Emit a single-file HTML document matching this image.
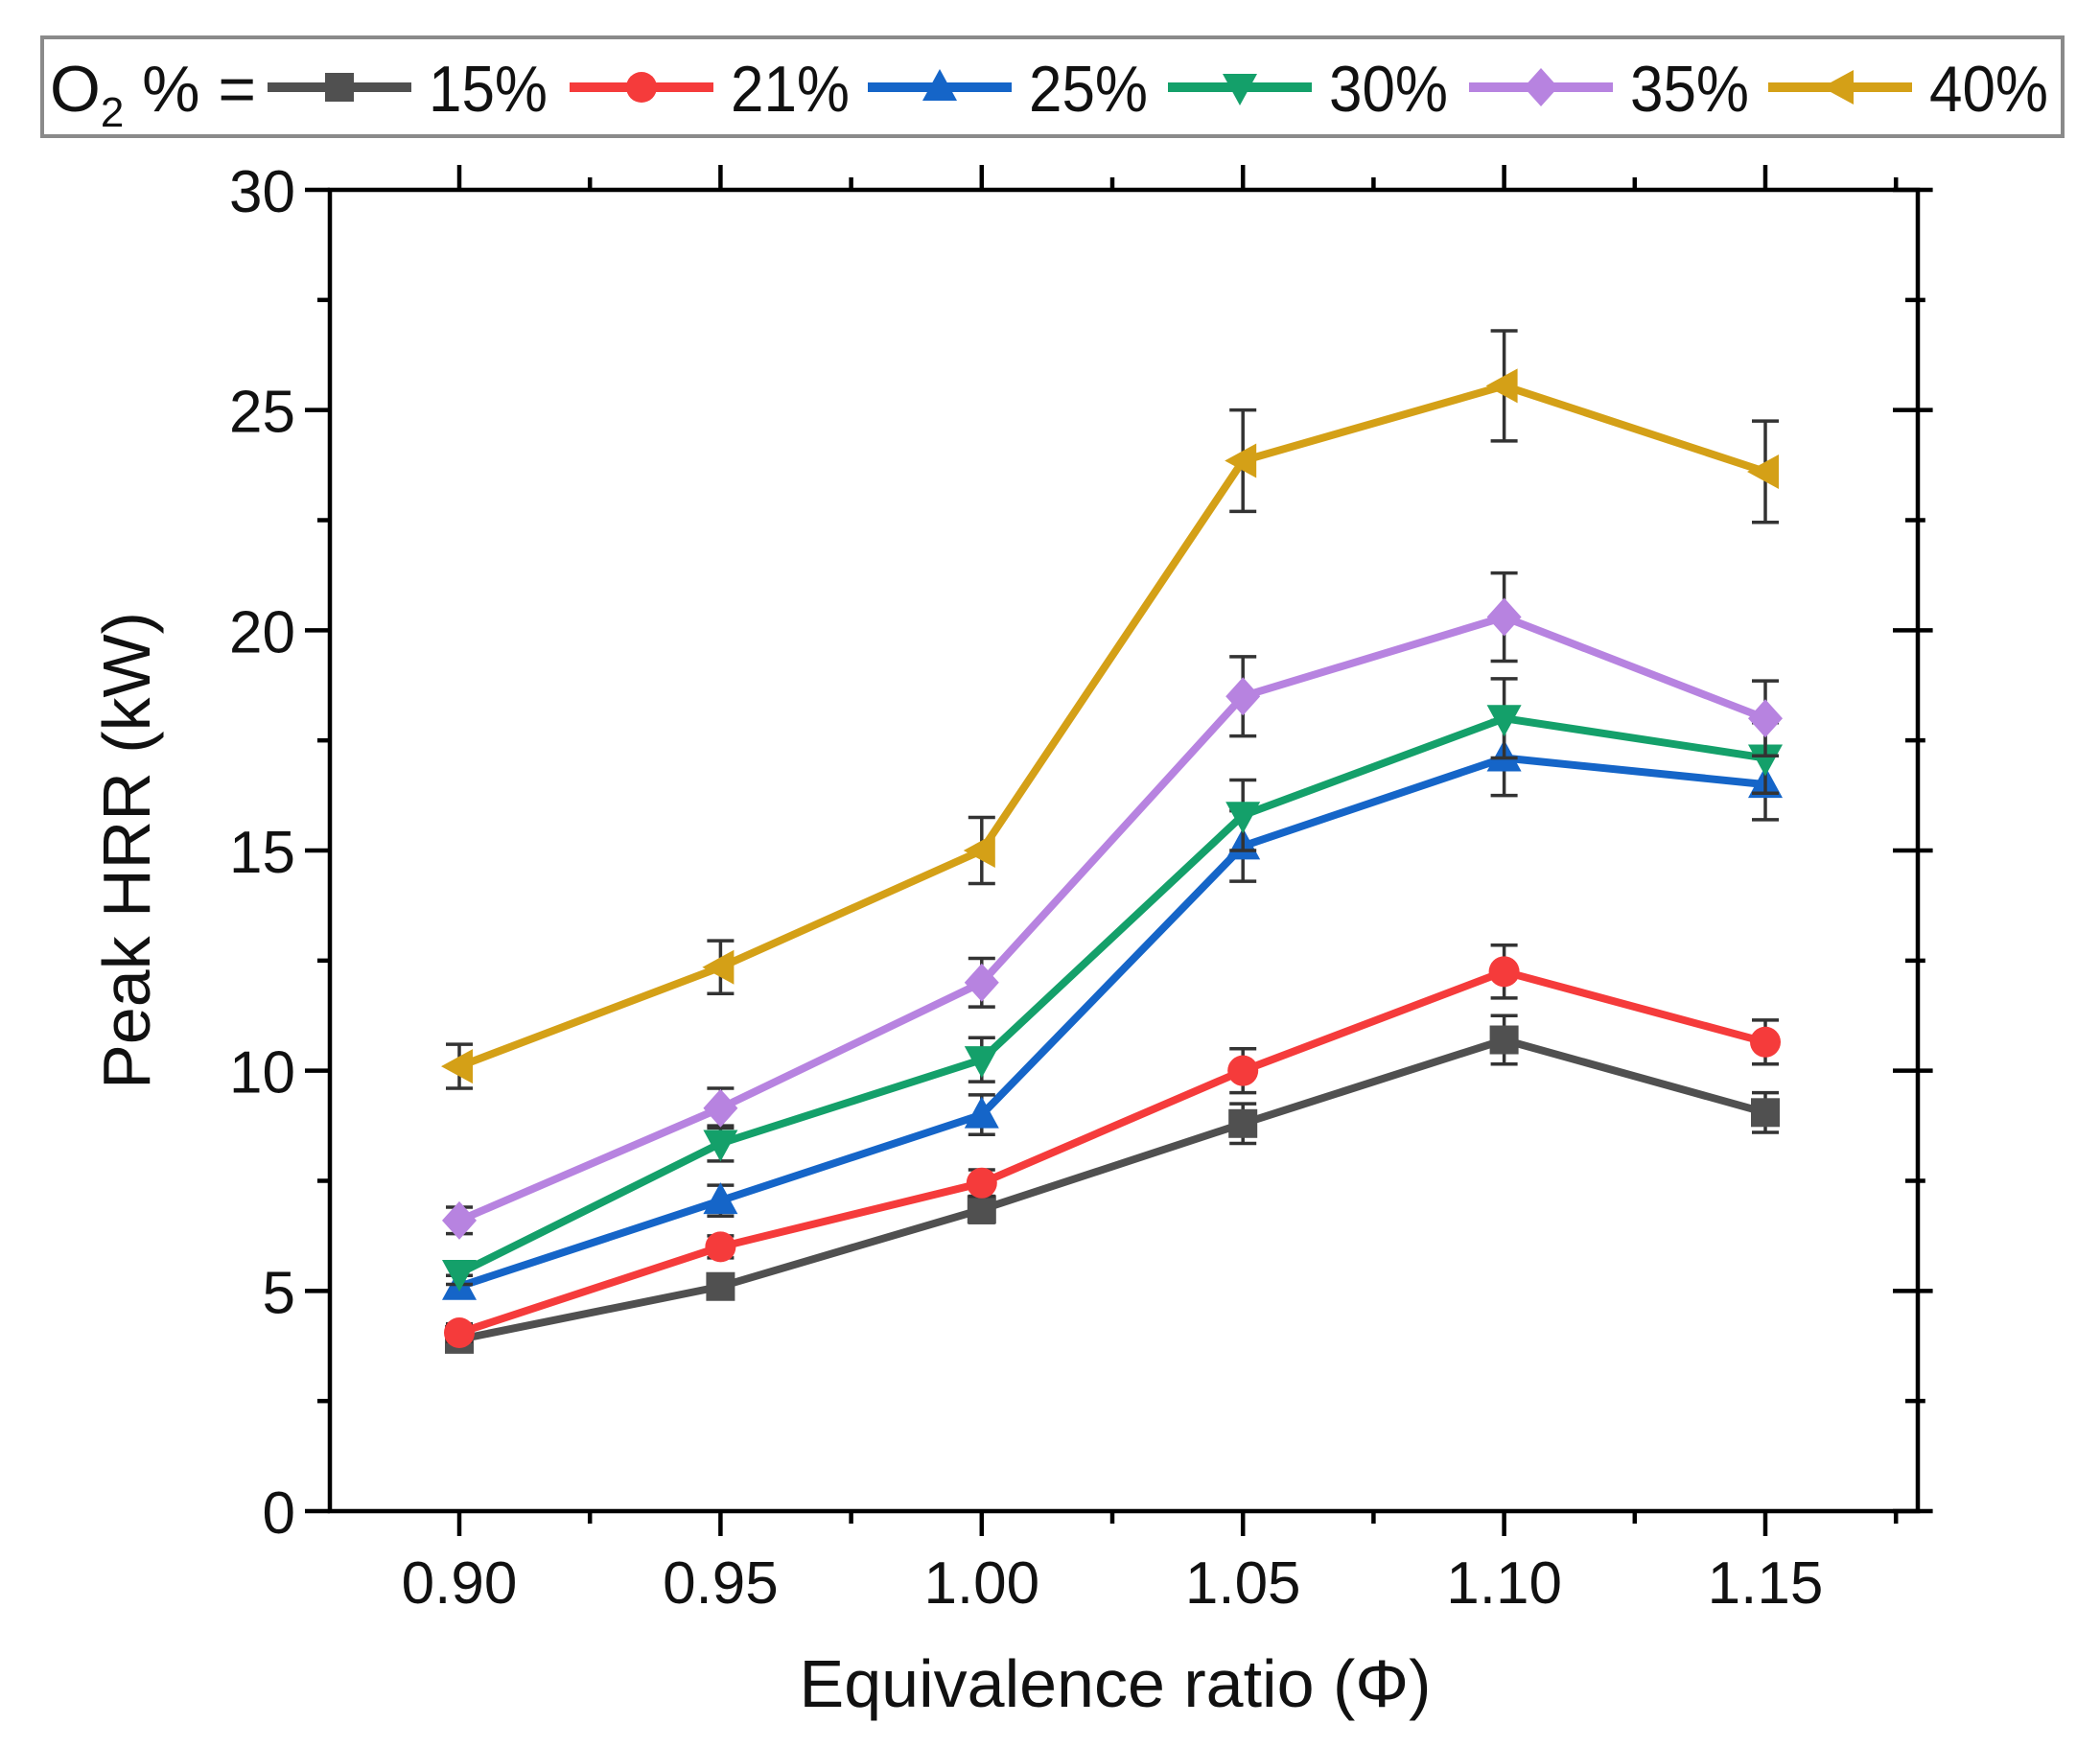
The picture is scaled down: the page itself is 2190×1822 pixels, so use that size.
<!DOCTYPE html>
<html><head><meta charset="utf-8"><style>
html,body{margin:0;padding:0;background:#fff}
svg{display:block}
text{font-family:"Liberation Sans",Arial,sans-serif;fill:#111}
</style></head><body>
<svg id="chart" width="2190" height="1822" viewBox="0 0 2190 1822" xmlns="http://www.w3.org/2000/svg">
<g id="legend">
<rect x="44" y="39" width="2107" height="103" fill="#fff" stroke="#8a8a8a" stroke-width="4"/>
<text x="52" y="116" font-size="68" textLength="215" lengthAdjust="spacingAndGlyphs">O<tspan font-size="44" dy="16">2</tspan><tspan dy="-16"> % =</tspan></text>
</g>
<g id="axes"></g>
<g id="series"></g>
</svg>
<script>
const categories = [0.90, 0.95, 1.00, 1.05, 1.10, 1.15];
const xTickLabels = ["0.90","0.95","1.00","1.05","1.10","1.15"];
const yTicks = [0,5,10,15,20,25,30];
const seriesNames = ["15%","21%","25%","30%","35%","40%"];
const seriesColors = ["#505050","#f53b3b","#1565c8","#14a06a","#b783e0","#d4a017"];
const seriesMarkers = ["square","circle","triangle-up","triangle-down","diamond","triangle-left"];
const o2_15 = [3.9, 5.1, 6.85, 8.8, 10.7, 9.05];
const o2_21 = [4.05, 6.0, 7.45, 10.0, 12.25, 10.65];
const o2_25 = [5.1, 7.05, 9.0, 15.1, 17.1, 16.5];
const o2_30 = [5.4, 8.35, 10.25, 15.8, 18.0, 17.1];
const o2_35 = [6.6, 9.15, 12.0, 18.5, 20.3, 18.0];
const o2_40 = [10.1, 12.35, 15.0, 23.85, 25.55, 23.6];
const err_15 = [0.2, 0.25, 0.3, 0.45, 0.55, 0.45];
const err_21 = [0.2, 0.25, 0.3, 0.5, 0.6, 0.5];
const err_25 = [0.25, 0.35, 0.45, 0.8, 0.85, 0.8];
const err_30 = [0.25, 0.4, 0.5, 0.8, 0.9, 0.8];
const err_35 = [0.3, 0.45, 0.55, 0.9, 1.0, 0.85];
const err_40 = [0.5, 0.6, 0.75, 1.15, 1.25, 1.15];
const seriesValues = [o2_15,o2_21,o2_25,o2_30,o2_35,o2_40];
const seriesErrors = [err_15,err_21,err_25,err_30,err_35,err_40];

const NS="http://www.w3.org/2000/svg";
const L=344,R=2000,T=198,B=1576;
const xs=v=>479+(v-0.90)/0.25*(1841-479);
const ys=v=>B-(v/30)*(B-T);
function mk(tag,attrs,parent){const e=document.createElementNS(NS,tag);for(const k in attrs)e.setAttribute(k,attrs[k]);parent.appendChild(e);return e;}
const axes=document.getElementById('axes');
const ser=document.getElementById('series');
const leg=document.getElementById('legend');

let fr=mk('rect',{x:L,y:T,width:R-L,height:B-T,fill:'none',stroke:'#000','stroke-width':4.5},axes);


for(let i=0;i<=12;i++){
  const v=i*2.5,y=ys(v),major=i%2===0,len=major?26:13;
  let t1=mk('line',{x1:L-len,x2:L,y1:y,y2:y,stroke:'#000','stroke-width':4.5},axes);
  
  
  let t2=mk('line',{x1:R-len,x2:R+len*0.6,y1:y,y2:y,stroke:'#000','stroke-width':4.5},axes);
  
  
}
yTicks.forEach(v=>{
  let t=mk('text',{x:L-36,y:ys(v)+23,'font-size':62,'text-anchor':'end'},axes);
  t.textContent=String(v);
  
  
});
for(let i=-1;i<=12;i++){
  const v=0.90+i*0.025,x=xs(v);
  if(x<L||x>R)continue;
  const major=i%2===0,len=major?26:13;
  let t1=mk('line',{x1:x,x2:x,y1:B,y2:B+len,stroke:'#000','stroke-width':4.5},axes);
  
  
  let t2=mk('line',{x1:x,x2:x,y1:T-len,y2:T,stroke:'#000','stroke-width':4.5},axes);
  
  
}
categories.forEach((c,i)=>{
  let t=mk('text',{x:xs(c),y:1672,'font-size':62,'text-anchor':'middle'},axes);
  t.textContent=xTickLabels[i];
  
  
});
let xt=mk('text',{x:1163,y:1780,'font-size':70,'text-anchor':'middle'},axes);
xt.textContent='Equivalence ratio (\u03A6)';


let yt=mk('text',{x:0,y:0,'font-size':70,'text-anchor':'middle',transform:'translate(156,887) rotate(-90)'},axes);
yt.textContent='Peak HRR (kW)';



function marker(type,x,y,color,parent){
  const s=17;let e;
  if(type==='square')e=mk('rect',{x:x-s+2,y:y-s+2,width:2*s-4,height:2*s-4,fill:color},parent);
  else if(type==='circle')e=mk('circle',{cx:x,cy:y,r:s-1,fill:color},parent);
  else{
    let p;
    if(type==='triangle-up')p=[[x,y-s-2],[x+s+1,y+s-3],[x-s-1,y+s-3]];
    else if(type==='triangle-down')p=[[x,y+s+2],[x+s+1,y-s+3],[x-s-1,y-s+3]];
    else if(type==='diamond')p=[[x,y-s-3],[x+s+1,y],[x,y+s+3],[x-s-1,y]];
    else p=[[x-s-2,y],[x+s-3,y-s-1],[x+s-3,y+s+1]];
    e=mk('polygon',{points:p.map(q=>q.join(',')).join(' '),fill:color},parent);
  }
  return e;
}

seriesValues.forEach((vals,si)=>{
  const g=mk('g',{},ser);
  
  
  const col=seriesColors[si];
  let pl=mk('polyline',{points:vals.map((v,i)=>xs(categories[i])+','+ys(v)).join(' '),fill:'none',stroke:col,'stroke-width':8,'stroke-linejoin':'round'},g);
  
  
  vals.forEach((v,i)=>{
    const x=xs(categories[i]),e=seriesErrors[si][i];
    const eb=mk('g',{stroke:'#333','stroke-width':3.5},g);
    
    
    mk('line',{x1:x,x2:x,y1:ys(v+e),y2:ys(v-e)},eb);
    mk('line',{x1:x-14,x2:x+14,y1:ys(v+e),y2:ys(v+e)},eb);
    mk('line',{x1:x-14,x2:x+14,y1:ys(v-e),y2:ys(v-e)},eb);
    const m=marker(seriesMarkers[si],x,ys(v),col,g);
    
    
  });
});

const legLineStart=[279,594,905,1218,1532,1844];
seriesNames.forEach((n,i)=>{
  const g=mk('g',{},leg);
  
  
  const x0=legLineStart[i],x1=x0+150,y=91;
  mk('line',{x1:x0,x2:x1,y1:y,y2:y,stroke:seriesColors[i],'stroke-width':10},g);
  marker(seriesMarkers[i],(x0+x1)/2,y,seriesColors[i],g);
  const t=mk('text',{x:x1+18,y:116,'font-size':68,textLength:124,lengthAdjust:'spacingAndGlyphs'},g);
  t.textContent=n;
});
</script>
</body></html>
